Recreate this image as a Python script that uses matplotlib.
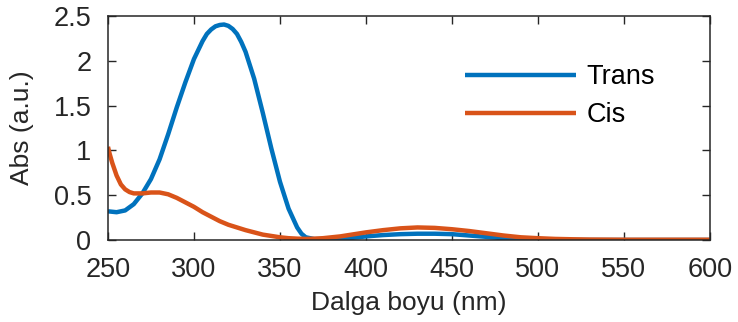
import matplotlib
matplotlib.use("Agg")
import matplotlib.pyplot as plt

# ---------------------------------------------------------------------------
# datos
# ---------------------------------------------------------------------------
wl_trans = [250, 255, 260, 265, 270, 275, 280, 285, 290, 295, 300, 302.5, 305,
            307.5, 310, 312.5, 315, 317.5, 320, 322.5, 325, 327.5, 330, 335,
            340, 345, 350, 355, 360, 362.5, 365, 370, 380, 390, 400, 410, 420,
            430, 440, 450, 460, 470, 480, 490, 500, 520, 550, 600]
abs_trans = [0.32, 0.31, 0.33, 0.40, 0.52, 0.68, 0.90, 1.18, 1.48, 1.76, 2.02,
             2.12, 2.22, 2.30, 2.35, 2.385, 2.40, 2.405, 2.39, 2.355, 2.30,
             2.21, 2.10, 1.80, 1.42, 1.02, 0.65, 0.35, 0.14, 0.07, 0.03, 0.01,
             0.01, 0.02, 0.04, 0.055, 0.065, 0.07, 0.07, 0.065, 0.05, 0.035,
             0.02, 0.01, 0.005, 0.0, 0.0, 0.0]

wl_cis = [250, 251, 252.5, 255, 257.5, 260, 262.5, 265, 270, 275, 280, 285,
          290, 295, 300, 305, 310, 315, 320, 325, 330, 335, 340, 345, 350, 355,
          360, 365, 370, 375, 380, 385, 390, 395, 400, 410, 420, 430, 440, 450,
          460, 470, 480, 490, 500, 510, 520, 530, 550, 600]
abs_cis = [1.04, 0.96, 0.86, 0.72, 0.62, 0.565, 0.535, 0.52, 0.52, 0.53, 0.53,
           0.51, 0.47, 0.42, 0.37, 0.31, 0.26, 0.21, 0.17, 0.14, 0.11, 0.085,
           0.06, 0.045, 0.03, 0.02, 0.015, 0.012, 0.015, 0.02, 0.03, 0.04,
           0.055, 0.07, 0.085, 0.11, 0.13, 0.14, 0.135, 0.12, 0.10, 0.075,
           0.05, 0.03, 0.02, 0.012, 0.008, 0.005, 0.003, 0.003]

etiquetas = ["Trans", "Cis"]
xticks = [250, 300, 350, 400, 450, 500, 550, 600]
yticks = [0, 0.5, 1, 1.5, 2, 2.5]
ytick_labels = ["0", "0.5", "1", "1.5", "2", "2.5"]

# ---------------------------------------------------------------------------
# grafico
# ---------------------------------------------------------------------------
plt.rcParams["font.family"] = ["Liberation Sans", "DejaVu Sans"]
gris = "#262626"

fig = plt.figure(figsize=(7.38, 3.22), dpi=100)
ax = fig.add_axes([0.1463, 0.2547, 0.8157, 0.6956])

ax.plot(wl_trans, abs_trans, color="#0072BD", lw=3.2, label=etiquetas[0],
        solid_capstyle="butt", solid_joinstyle="round")
ax.plot(wl_cis, abs_cis, color="#D95319", lw=3.2, label=etiquetas[1],
        solid_capstyle="butt", solid_joinstyle="round")

ax.set_xlim(250, 600)
ax.set_ylim(0, 2.5)
ax.set_xticks(xticks)
ax.set_yticks(yticks)
ax.set_yticklabels(ytick_labels)

ax.tick_params(direction="in", length=6, width=1, colors=gris,
               labelsize=19.5, top=True, right=True)
ax.tick_params(axis="x", pad=12)
ax.tick_params(axis="y", pad=12)
for s in ax.spines.values():
    s.set_color(gris)
    s.set_linewidth(1.1)

ax.set_xlabel("Dalga boyu (nm)", fontsize=19, color=gris, labelpad=6)
ax.set_ylabel("Abs (a.u.)", fontsize=19, color=gris, labelpad=14)

ax.legend(loc="upper left", bbox_to_anchor=(0.593, 0.785), frameon=False,
          fontsize=19.5, handlelength=4.1, handletextpad=0.4,
          labelspacing=0.45, borderpad=0, borderaxespad=0)

fig.savefig("out.png", dpi=100)
